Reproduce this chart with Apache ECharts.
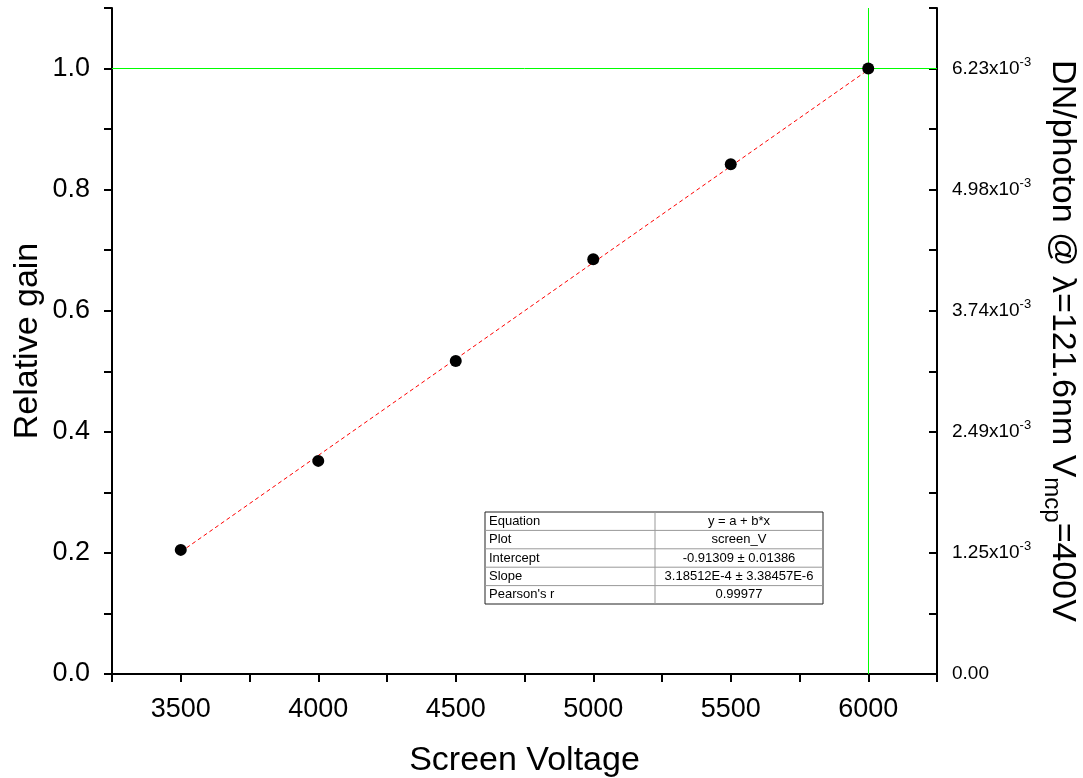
<!DOCTYPE html>
<html><head><meta charset="utf-8">
<script src="https://cdn.jsdelivr.net/npm/echarts@6/dist/echarts.min.js"></script>
<style>html,body{margin:0;padding:0;background:#fff}#c{width:1083px;height:778px}</style>
</head><body><div id="c"></div>
<script>
// ---- data ----
var voltages = [3500, 4000, 4500, 5000, 5500, 6000];
var relGain = [0.205, 0.352, 0.517, 0.685, 0.842, 1.0];
var fitX = [3500, 6000];
var fitY = [0.2017, 0.9979];
var xTicks = [3500, 4000, 4500, 5000, 5500, 6000];
var leftTicks = ['0.0', '0.2', '0.4', '0.6', '0.8', '1.0'];
var rightMant = ['0.00', '1.25', '2.49', '3.74', '4.98', '6.23'];
var tableRows = [
  ['Equation', 'y = a + b*x'],
  ['Plot', 'screen_V'],
  ['Intercept', '-0.91309 \u00b1 0.01386'],
  ['Slope', '3.18512E-4 \u00b1 3.38457E-6'],
  ["Pearson's r", '0.99977']
];

var FONT = 'Liberation Sans, Arial, sans-serif';
var chart = echarts.init(document.getElementById('c'), null, {renderer: 'canvas'});

// table graphic
var tb = {x: 485, y: 512, w: 338, rowH: 18.4, colX: 655};
var g = [];
g.push({type: 'rect', shape: {x: tb.x, y: tb.y, width: tb.w, height: tb.rowH * 5}, style: {fill: '#fff', stroke: '#222', lineWidth: 1}, z: 100});
for (var i = 1; i < 5; i++) {
  g.push({type: 'line', shape: {x1: tb.x, y1: tb.y + i * tb.rowH, x2: tb.x + tb.w, y2: tb.y + i * tb.rowH}, style: {stroke: '#999', lineWidth: 1}, z: 101});
}
g.push({type: 'line', shape: {x1: tb.colX, y1: tb.y, x2: tb.colX, y2: tb.y + tb.rowH * 5}, style: {stroke: '#999', lineWidth: 1}, z: 101});
tableRows.forEach(function (r, i) {
  var cy = tb.y + (i + 0.5) * tb.rowH;
  g.push({type: 'text', x: tb.x + 4, y: cy, style: {text: r[0], font: '13px ' + FONT, fill: '#000', textVerticalAlign: 'middle', textAlign: 'left'}, z: 102});
  g.push({type: 'text', x: (tb.colX + tb.x + tb.w) / 2, y: cy, style: {text: r[1], font: '13px ' + FONT, fill: '#000', textVerticalAlign: 'middle', textAlign: 'center'}, z: 102});
});

var axisLine = {show: true, lineStyle: {color: '#000', width: 2}};

chart.setOption({
  animation: false,
  backgroundColor: '#fff',
  textStyle: {fontFamily: FONT},
  grid: {left: 112, right: 146, top: 8, bottom: 104, containLabel: false, outerBoundsMode: 'none'},
  xAxis: [{
    type: 'value', min: 3250, max: 6250, interval: 250, position: 'bottom',
    name: 'Screen Voltage', nameLocation: 'middle', nameGap: 70, nameMoveOverlap: false,
    nameTextStyle: {fontSize: 34, color: '#000', fontFamily: FONT},
    axisLine: axisLine,
    axisTick: {show: true, inside: false, length: 8, lineStyle: {color: '#000', width: 2}},
    axisLabel: {fontSize: 27, color: '#000', margin: 22, fontFamily: FONT,
      formatter: function (v) { return xTicks.indexOf(v) >= 0 ? String(v) : ''; }},
    splitLine: {show: false}
  }, {
    type: 'value', min: 3250, max: 6250, interval: 250, position: 'top',
    axisLine: axisLine,
    axisTick: {show: true, inside: true, length: 8, lineStyle: {color: '#000', width: 2}},
    axisLabel: {show: false}, splitLine: {show: false}
  }],
  yAxis: [{
    type: 'value', min: 0, max: 1.1, interval: 0.1, position: 'left',
    name: 'Relative gain', nameLocation: 'middle', nameGap: 67, nameRotate: 90, nameMoveOverlap: false,
    nameTextStyle: {fontSize: 34, color: '#000', fontFamily: FONT},
    axisLine: axisLine,
    axisTick: {show: true, inside: false, length: 8, lineStyle: {color: '#000', width: 2}},
    axisLabel: {fontSize: 27, color: '#000', margin: 22, fontFamily: FONT,
      formatter: function (v) {
        var k = v / 0.2; var r = Math.round(k);
        return Math.abs(k - r) < 1e-6 && r < leftTicks.length ? leftTicks[r] : '';
      }},
    splitLine: {show: false}
  }, {
    type: 'value', min: 0, max: 1.1, interval: 0.1, position: 'right',
    name: '{a|DN/photon @ \u03bb=121.6nm V}{s|mcp}{a|=400V}', nameLocation: 'middle', nameGap: 103, nameRotate: -90, nameMoveOverlap: false,
    nameTextStyle: {color: '#000', fontFamily: FONT,
      rich: {a: {fontSize: 34, fontFamily: FONT, color: '#000', lineHeight: 44, verticalAlign: 'middle'},
             s: {fontSize: 24, fontFamily: FONT, color: '#000', lineHeight: 44, verticalAlign: 'bottom', padding: [22, 0, 0, 0]}}},
    axisLine: axisLine,
    axisTick: {show: true, inside: true, length: 8, lineStyle: {color: '#000', width: 2}},
    axisLabel: {color: '#000', margin: 15, fontFamily: FONT,
      formatter: function (v) {
        var k = v / 0.2; var r = Math.round(k);
        if (Math.abs(k - r) > 1e-6 || r >= rightMant.length) return '';
        if (r === 0) return '{b|' + rightMant[r] + '}';
        return '{b|' + rightMant[r] + 'x10}{p|-3}';
      },
      rich: {b: {fontSize: 19, fontFamily: FONT, color: '#000', lineHeight: 26, verticalAlign: 'middle'},
             p: {fontSize: 13, fontFamily: FONT, color: '#000', lineHeight: 26, verticalAlign: 'top', padding: [0, 0, 10, 0]}}},
    splitLine: {show: false}
  }],
  series: [{
    type: 'line', xAxisIndex: 0, yAxisIndex: 0,
    data: fitX.map(function (x, i) { return [x, fitY[i]]; }),
    symbol: 'none', lineStyle: {color: '#ff0000', width: 1, type: [4, 3]}, z: 2,
    markLine: {silent: true, symbol: 'none', label: {show: false},
      lineStyle: {color: '#00ff00', width: 1, type: 'solid'},
      data: [{yAxis: 1.0}, {xAxis: 6000}]}
  }, {
    type: 'scatter', xAxisIndex: 0, yAxisIndex: 0,
    data: voltages.map(function (x, i) { return [x, relGain[i]]; }),
    symbol: 'circle', symbolSize: 12, itemStyle: {color: '#000', opacity: 1}, z: 5
  }],
  graphic: g
});
</script></body></html>
